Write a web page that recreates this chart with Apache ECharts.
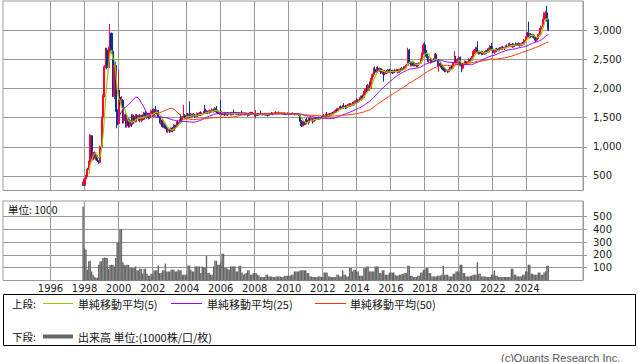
<!DOCTYPE html>
<html><head><meta charset="utf-8">
<script src="https://cdn.jsdelivr.net/npm/echarts@6/dist/echarts.min.js"></script>
<style>html,body{margin:0;padding:0;background:#fff}#c{width:638px;height:362px}</style>
</head><body><div id="c"></div><script>
// ---- data (monthly, first month 1997-12) ----
const firstMonth = '1997-12';
const axisFrom = [1993, 4];
const axisTo = [2027, 4];
const yearLabels = ['1996','1998','2000','2002','2004','2006','2008','2010','2012','2014','2016','2018','2020','2022','2024'];
const priceTicks = [500, 1000, 1500, 2000, 2500, 3000];
const volumeTicks = [100, 200, 300, 400, 500];

const open = [
 390,
 340,450,500,620,720,1190,780,900,820,850,760,730,
 1000,1500,1880,2380,2660,2360,2700,2950,2640,1870,2400,1640,
 1400,1850,1750,1800,1450,1550,1380,1480,1360,1450,1400,1520,
 1430,1530,1480,1540,1460,1530,1470,1580,1520,1570,1500,1560,
 1620,1540,1640,1580,1620,1510,1420,1460,1350,1400,1320,1270,
 1300,1260,1320,1280,1370,1340,1420,1400,1470,1450,1510,1540,
 1490,1560,1520,1510,1560,1530,1550,1520,1570,1540,1580,1550,
 1570,1650,1580,1610,1580,1620,1600,1640,1610,1660,1600,1580,
 1600,1580,1560,1590,1550,1580,1560,1580,1550,1590,1570,1590,
 1560,1580,1560,1570,1560,1575,1550,1570,1540,1570,1590,1560,
 1570,1540,1560,1545,1570,1560,1550,1565,1550,1560,1540,1560,
 1575,1560,1580,1590,1570,1590,1575,1585,1570,1580,1560,1570,
 1565,1570,1560,1575,1565,1555,1570,1560,1545,1440,1360,1430,
 1390,1460,1420,1490,1450,1480,1440,1490,1470,1500,1480,1500,
 1490,1530,1510,1550,1530,1560,1545,1580,1570,1600,1630,1620,
 1660,1690,1660,1700,1680,1670,1710,1730,1700,1740,1720,1770,
 1790,1760,1810,1800,1870,1850,1940,1990,1960,2060,2000,2160,
 2240,2330,2280,2350,2300,2340,2270,2310,2250,2290,2270,2320,
 2290,2310,2270,2300,2290,2320,2280,2330,2310,2350,2340,2380,
 2400,2660,2440,2400,2440,2400,2430,2390,2420,2440,2500,2600,
 2750,2640,2550,2480,2500,2460,2490,2470,2580,2500,2400,2430,
 2390,2350,2320,2300,2310,2290,2320,2370,2350,2440,2500,2450,
 2480,2530,2400,2350,2420,2460,2430,2450,2500,2480,2540,2620,
 2660,2700,2620,2600,2630,2590,2620,2600,2650,2630,2690,2720,
 2670,2620,2640,2680,2650,2690,2670,2710,2690,2700,2730,2720,
 2760,2730,2750,2720,2760,2740,2770,2750,2740,2770,2760,2830,
 2880,2960,2910,2930,2890,2920,2880,2830,2860,2930,3020,3060,
 3180,3290,3300,3180
];
const high = [
 400,
 460,520,640,760,1220,1200,950,920,870,860,770,1020,
 1520,1900,2400,2700,2700,2720,3110,2960,2660,2460,2460,1700,
 2320,1980,1870,1820,1630,1570,1520,1500,1480,1560,1560,1550,
 1560,1560,1550,1560,1550,1560,1600,1620,1600,1580,1580,1640,
 1650,1660,1700,1640,1630,1520,1480,1470,1420,1410,1350,1320,
 1310,1330,1340,1390,1380,1440,1450,1480,1560,1530,1720,1560,
 1580,1580,1780,1580,1570,1580,1560,1590,1580,1600,1610,1590,
 1620,1720,1630,1620,1640,1630,1660,1660,1680,1700,1640,1620,
 1810,1620,1600,1600,1590,1600,1590,1590,1600,1640,1600,1600,
 1590,1600,1580,1620,1580,1590,1580,1580,1580,1600,1600,1580,
 1580,1630,1570,1580,1620,1580,1575,1580,1570,1570,1570,1580,
 1600,1590,1600,1610,1600,1605,1595,1600,1590,1590,1580,1590,
 1580,1585,1580,1590,1580,1575,1580,1575,1550,1460,1440,1440,
 1480,1500,1510,1500,1500,1490,1500,1510,1510,1520,1510,1530,
 1540,1560,1570,1600,1570,1580,1590,1600,1610,1640,1660,1670,
 1700,1710,1720,1750,1720,1720,1740,1750,1750,1770,1780,1800,
 1830,1820,1850,1880,1900,1960,2010,2060,2080,2120,2180,2260,
 2360,2380,2370,2380,2360,2350,2330,2320,2310,2320,2330,2340,
 2330,2320,2320,2330,2340,2330,2340,2350,2370,2380,2390,2420,
 2700,2680,2470,2460,2460,2450,2440,2430,2450,2520,2620,2780,
 2790,2660,2600,2530,2520,2510,2520,2600,2610,2510,2450,2460,
 2420,2380,2350,2340,2320,2330,2380,2400,2460,2640,2560,2520,
 2560,2550,2420,2440,2480,2480,2470,2520,2530,2560,2640,2680,
 2720,2810,2650,2650,2650,2640,2640,2670,2690,2700,2750,2780,
 2700,2660,2690,2700,2700,2710,2720,2730,2720,2740,2760,2780,
 2790,2770,2780,2770,2790,2780,2790,2780,2790,2800,2850,2900,
 2980,3150,2950,2950,2940,2940,2900,2880,2950,3040,3080,3200,
 3310,3330,3420,3200
];
const low = [
 330,
 330,440,480,600,700,760,770,800,770,740,710,720,
 980,1480,1850,2350,2330,2340,2680,2600,1850,1820,1600,1320,
 1380,1700,1680,1400,1400,1330,1330,1330,1330,1340,1380,1400,
 1420,1450,1440,1420,1420,1450,1460,1500,1480,1470,1480,1540,
 1520,1530,1560,1560,1500,1400,1380,1330,1320,1300,1250,1240,
 1240,1250,1250,1270,1320,1330,1370,1390,1420,1440,1500,1470,
 1480,1500,1490,1500,1510,1520,1500,1510,1520,1530,1530,1540,
 1560,1570,1570,1560,1570,1580,1590,1590,1600,1580,1560,1550,
 1560,1540,1540,1530,1540,1530,1550,1540,1540,1550,1560,1550,
 1550,1550,1540,1550,1550,1540,1545,1520,1530,1555,1550,1545,
 1520,1490,1530,1540,1550,1540,1540,1540,1535,1520,1530,1545,
 1550,1540,1560,1560,1560,1565,1560,1560,1555,1550,1545,1555,
 1545,1550,1550,1555,1540,1545,1550,1530,1430,1340,1350,1370,
 1380,1400,1380,1430,1440,1400,1430,1450,1460,1460,1470,1480,
 1480,1500,1500,1520,1520,1530,1540,1560,1560,1580,1600,1610,
 1640,1640,1650,1660,1650,1660,1680,1690,1690,1710,1710,1750,
 1740,1750,1780,1790,1820,1840,1900,1940,1950,1960,1990,2140,
 2200,2260,2270,2280,2290,2250,2240,2120,2230,2250,2260,2270,
 2260,2250,2260,2270,2280,2260,2270,2290,2300,2320,2330,2350,
 2390,2420,2380,2380,2380,2380,2370,2360,2400,2430,2490,2580,
 2600,2520,2460,2440,2430,2440,2450,2460,2480,2380,2290,2360,
 2330,2300,2280,2280,2270,2280,2310,2330,2340,2430,2430,2400,
 2440,2380,2280,2330,2400,2410,2410,2440,2460,2470,2530,2590,
 2620,2600,2580,2590,2570,2580,2580,2590,2610,2620,2660,2650,
 2600,2590,2620,2630,2640,2650,2660,2670,2660,2690,2700,2710,
 2710,2710,2700,2710,2730,2730,2730,2720,2730,2740,2750,2810,
 2860,2880,2860,2870,2870,2860,2800,2810,2850,2920,2990,3050,
 3150,3180,3150,2990
];
const close = [
 340,
 450,500,620,720,1200,780,900,820,850,760,730,1000,
 1500,1880,2380,2660,2360,2700,2950,2640,1870,2400,1640,1380,
 1850,1750,1800,1450,1550,1380,1480,1360,1450,1400,1520,1430,
 1530,1480,1540,1460,1530,1470,1580,1520,1570,1500,1560,1620,
 1540,1640,1580,1620,1510,1420,1460,1350,1400,1320,1270,1300,
 1260,1320,1280,1370,1340,1420,1400,1470,1450,1510,1540,1490,
 1560,1520,1510,1560,1530,1550,1520,1570,1540,1580,1550,1570,
 1600,1580,1610,1580,1620,1600,1640,1610,1660,1600,1580,1600,
 1580,1560,1590,1550,1580,1560,1580,1550,1590,1570,1590,1560,
 1580,1560,1570,1560,1575,1550,1570,1540,1570,1590,1560,1570,
 1540,1560,1545,1570,1560,1550,1565,1550,1560,1540,1560,1575,
 1560,1580,1590,1570,1590,1575,1585,1570,1580,1560,1570,1565,
 1570,1560,1575,1565,1555,1570,1560,1545,1440,1360,1430,1390,
 1460,1420,1490,1450,1480,1440,1490,1470,1500,1480,1500,1490,
 1530,1510,1550,1530,1560,1545,1580,1570,1600,1630,1620,1660,
 1690,1660,1700,1680,1670,1710,1730,1700,1740,1720,1770,1790,
 1760,1810,1800,1870,1850,1940,1990,1960,2060,2000,2160,2240,
 2330,2280,2350,2300,2340,2270,2310,2250,2290,2270,2320,2290,
 2310,2270,2300,2290,2320,2280,2330,2310,2350,2340,2380,2400,
 2660,2440,2400,2440,2400,2430,2390,2420,2440,2500,2600,2750,
 2640,2550,2480,2500,2460,2490,2470,2580,2500,2400,2430,2390,
 2350,2320,2300,2310,2290,2320,2370,2350,2440,2500,2450,2480,
 2530,2400,2350,2420,2460,2430,2450,2500,2480,2540,2620,2660,
 2700,2620,2600,2630,2590,2620,2600,2650,2630,2690,2720,2670,
 2620,2640,2680,2650,2690,2670,2710,2690,2700,2730,2720,2760,
 2730,2750,2720,2760,2740,2770,2750,2740,2770,2760,2830,2880,
 2960,2910,2930,2890,2920,2880,2830,2860,2930,3020,3060,3180,
 3290,3300,3180,3010
];
const volume = [
 578,
 250,240,84,150,155,71,45,30,22,22,123,149,
 150,175,180,176,176,90,120,123,120,110,176,297,
 297,401,401,143,123,117,123,123,97,97,97,97,
 110,79,79,92,92,53,92,92,53,38,38,53,
 53,79,79,79,117,58,58,79,79,131,70,70,
 70,84,84,84,70,70,84,79,79,45,45,45,
 45,117,117,84,70,70,110,110,110,110,58,110,
 104,104,193,58,58,45,45,110,154,154,123,123,
 143,209,209,97,97,92,84,110,110,110,110,70,
 71,115,115,62,45,50,58,79,79,45,45,58,
 58,58,45,40,27,27,27,27,45,45,32,32,
 32,27,27,32,32,32,32,27,27,37,37,37,
 37,37,45,45,71,71,71,71,79,79,79,79,
 79,58,58,32,32,27,27,27,27,32,32,27,
 27,62,62,62,32,32,27,27,27,27,45,45,
 32,32,79,45,45,32,32,97,97,71,84,84,
 71,71,37,37,37,97,97,110,110,71,71,71,
 71,110,110,110,58,58,79,79,45,45,45,62,
 62,62,62,45,37,37,45,45,53,53,58,58,
 115,115,37,37,27,27,27,37,37,62,62,84,
 84,97,97,58,58,32,32,32,32,37,37,37,
 45,115,45,45,45,32,32,32,53,53,71,71,
 71,123,123,58,58,32,32,32,37,37,45,45,
 45,141,53,53,32,32,32,32,27,27,27,45,
 45,79,37,37,27,27,27,27,27,27,27,27,
 27,92,92,45,45,32,32,32,32,45,45,71,
 71,123,123,53,53,45,45,45,62,62,45,45,
 62,71,115,115
];

// ---- build category axis (months) ----
const cats = [];
for (let i = 0; ; i++) {
  const t = axisFrom[0] * 12 + (axisFrom[1] - 1) + i;
  const y = Math.floor(t / 12), mo = t % 12 + 1;
  cats.push(y + '-' + String(mo).padStart(2, '0'));
  if (y === axisTo[0] && mo === axisTo[1]) break;
}
const offset = cats.indexOf(firstMonth);
const n = close.length;
const at = (arr, i) => { const k = i - offset; return (k >= 0 && k < n) ? arr[k] : '-'; };
const candleData = cats.map((c, i) => {
  const k = i - offset;
  return (k >= 0 && k < n) ? [open[k], close[k], low[k], high[k]] : ['-', '-', '-', '-'];
});
const volData = cats.map((c, i) => at(volume, i));
function sma(win) {
  const out = close.map((_, i) => {
    if (i < win - 1) return '-';
    let s = 0; for (let j = i - win + 1; j <= i; j++) s += close[j];
    return +(s / win).toFixed(1);
  });
  return cats.map((c, i) => at(out, i));
}
const isYearTick = (idx, val) => val.endsWith('-01') && yearLabels.includes(val.slice(0, 4));

const GRID = '#999999';
const LBL = { fontFamily: 'DejaVu Sans', fontSize: 10, color: '#222' };
const CJK = '"Noto Sans CJK JP", "DejaVu Sans", sans-serif';

const chart = echarts.init(document.getElementById('c'), null, { renderer: 'svg', width: 638, height: 362 });
chart.setOption({
  backgroundColor: '#ffffff',
  animation: false,
  grid: [
    { left: 3, right: 55, top: 1, height: 189.5, show: true, borderColor: GRID, borderWidth: 1, backgroundColor: 'transparent' },
    { left: 3, right: 55, top: 201, height: 79.5, show: true, borderColor: GRID, borderWidth: 1, backgroundColor: 'transparent' }
  ],
  xAxis: [
    { type: 'category', gridIndex: 0, data: cats, boundaryGap: true,
      axisLine: { show: false }, axisTick: { show: false }, axisLabel: { show: false },
      splitLine: { show: true, interval: isYearTick, lineStyle: { color: GRID, width: 1 } } },
    { type: 'category', gridIndex: 1, data: cats, boundaryGap: true,
      axisLine: { show: false }, axisTick: { show: false },
      axisLabel: Object.assign({ show: true, interval: isYearTick, margin: 3, formatter: v => v.slice(0, 4) }, LBL),
      splitLine: { show: true, interval: isYearTick, lineStyle: { color: GRID, width: 1 } } }
  ],
  yAxis: [
    { type: 'value', gridIndex: 0, position: 'right', min: 251, max: 3503,
      axisLine: { show: false },
      axisTick: { show: true, length: 4, customValues: priceTicks, lineStyle: { color: GRID } },
      axisLabel: Object.assign({ margin: 10, customValues: priceTicks, formatter: v => Number(v).toLocaleString('en-US') }, LBL),
      splitLine: { show: true, lineStyle: { color: GRID, width: 1 } } },
    { type: 'value', gridIndex: 1, position: 'right', min: 0, max: 620,
      axisLine: { show: false },
      axisTick: { show: true, length: 4, customValues: volumeTicks, lineStyle: { color: GRID } },
      axisLabel: Object.assign({ margin: 10, customValues: volumeTicks }, LBL),
      splitLine: { show: true, lineStyle: { color: GRID, width: 1 } } }
  ],
  series: [
    { type: 'candlestick', xAxisIndex: 0, yAxisIndex: 0, data: candleData, barWidth: 1.6,
      itemStyle: { color: '#ff0033', color0: '#003399', borderColor: '#ff0033', borderColor0: '#003399', borderWidth: 1 } },
    { type: 'line', name: 'MA5', xAxisIndex: 0, yAxisIndex: 0, data: sma(5), showSymbol: false, symbol: 'none',
      lineStyle: { color: '#99cc00', width: 1.2 } },
    { type: 'line', name: 'MA25', xAxisIndex: 0, yAxisIndex: 0, data: sma(25), showSymbol: false, symbol: 'none',
      lineStyle: { color: '#9900ff', width: 1 } },
    { type: 'line', name: 'MA50', xAxisIndex: 0, yAxisIndex: 0, data: sma(50), showSymbol: false, symbol: 'none',
      lineStyle: { color: '#ff3300', width: 1 } },
    { type: 'bar', xAxisIndex: 1, yAxisIndex: 1, data: volData, barWidth: '100%', barCategoryGap: '0%',
      itemStyle: { color: '#666666' } }
  ],
  graphic: [
    { type: 'text', x: 8, y: 209, style: { text: '単位: 1000', fill: '#111', font: '10.5px ' + CJK, verticalAlign: 'middle' } },
    { type: 'rect', shape: { x: 3.5, y: 294.5, width: 632, height: 51 }, style: { fill: 'transparent', stroke: '#000', lineWidth: 1 } },
    { type: 'text', x: 12, y: 303.5, style: { text: '上段:', fill: '#111', font: '10.5px ' + CJK, verticalAlign: 'middle' } },
    { type: 'line', shape: { x1: 43, y1: 303.5, x2: 73, y2: 303.5 }, style: { stroke: '#99cc00', lineWidth: 1 } },
    { type: 'text', x: 78, y: 303.5, style: { text: '単純移動平均(5)', fill: '#111', font: '11px ' + CJK, verticalAlign: 'middle' } },
    { type: 'line', shape: { x1: 171, y1: 303.5, x2: 202, y2: 303.5 }, style: { stroke: '#9900ff', lineWidth: 1 } },
    { type: 'text', x: 207, y: 303.5, style: { text: '単純移動平均(25)', fill: '#111', font: '11px ' + CJK, verticalAlign: 'middle' } },
    { type: 'line', shape: { x1: 315, y1: 303.5, x2: 346, y2: 303.5 }, style: { stroke: '#ff3300', lineWidth: 1 } },
    { type: 'text', x: 350, y: 303.5, style: { text: '単純移動平均(50)', fill: '#111', font: '11px ' + CJK, verticalAlign: 'middle' } },
    { type: 'text', x: 12, y: 336.5, style: { text: '下段:', fill: '#111', font: '10.5px ' + CJK, verticalAlign: 'middle' } },
    { type: 'line', shape: { x1: 43, y1: 336.5, x2: 73, y2: 336.5 }, style: { stroke: '#666666', lineWidth: 4 } },
    { type: 'text', x: 78, y: 336.5, style: { text: '出来高 単位:(1000株/口/枚)', fill: '#111', font: '11px ' + CJK, verticalAlign: 'middle' } },
    { type: 'text', x: 501, y: 357.5, style: { text: '(c)Quants Research Inc.', fill: '#555', font: '11px "Liberation Sans", sans-serif', verticalAlign: 'middle' } }
  ]
});
</script></body></html>
